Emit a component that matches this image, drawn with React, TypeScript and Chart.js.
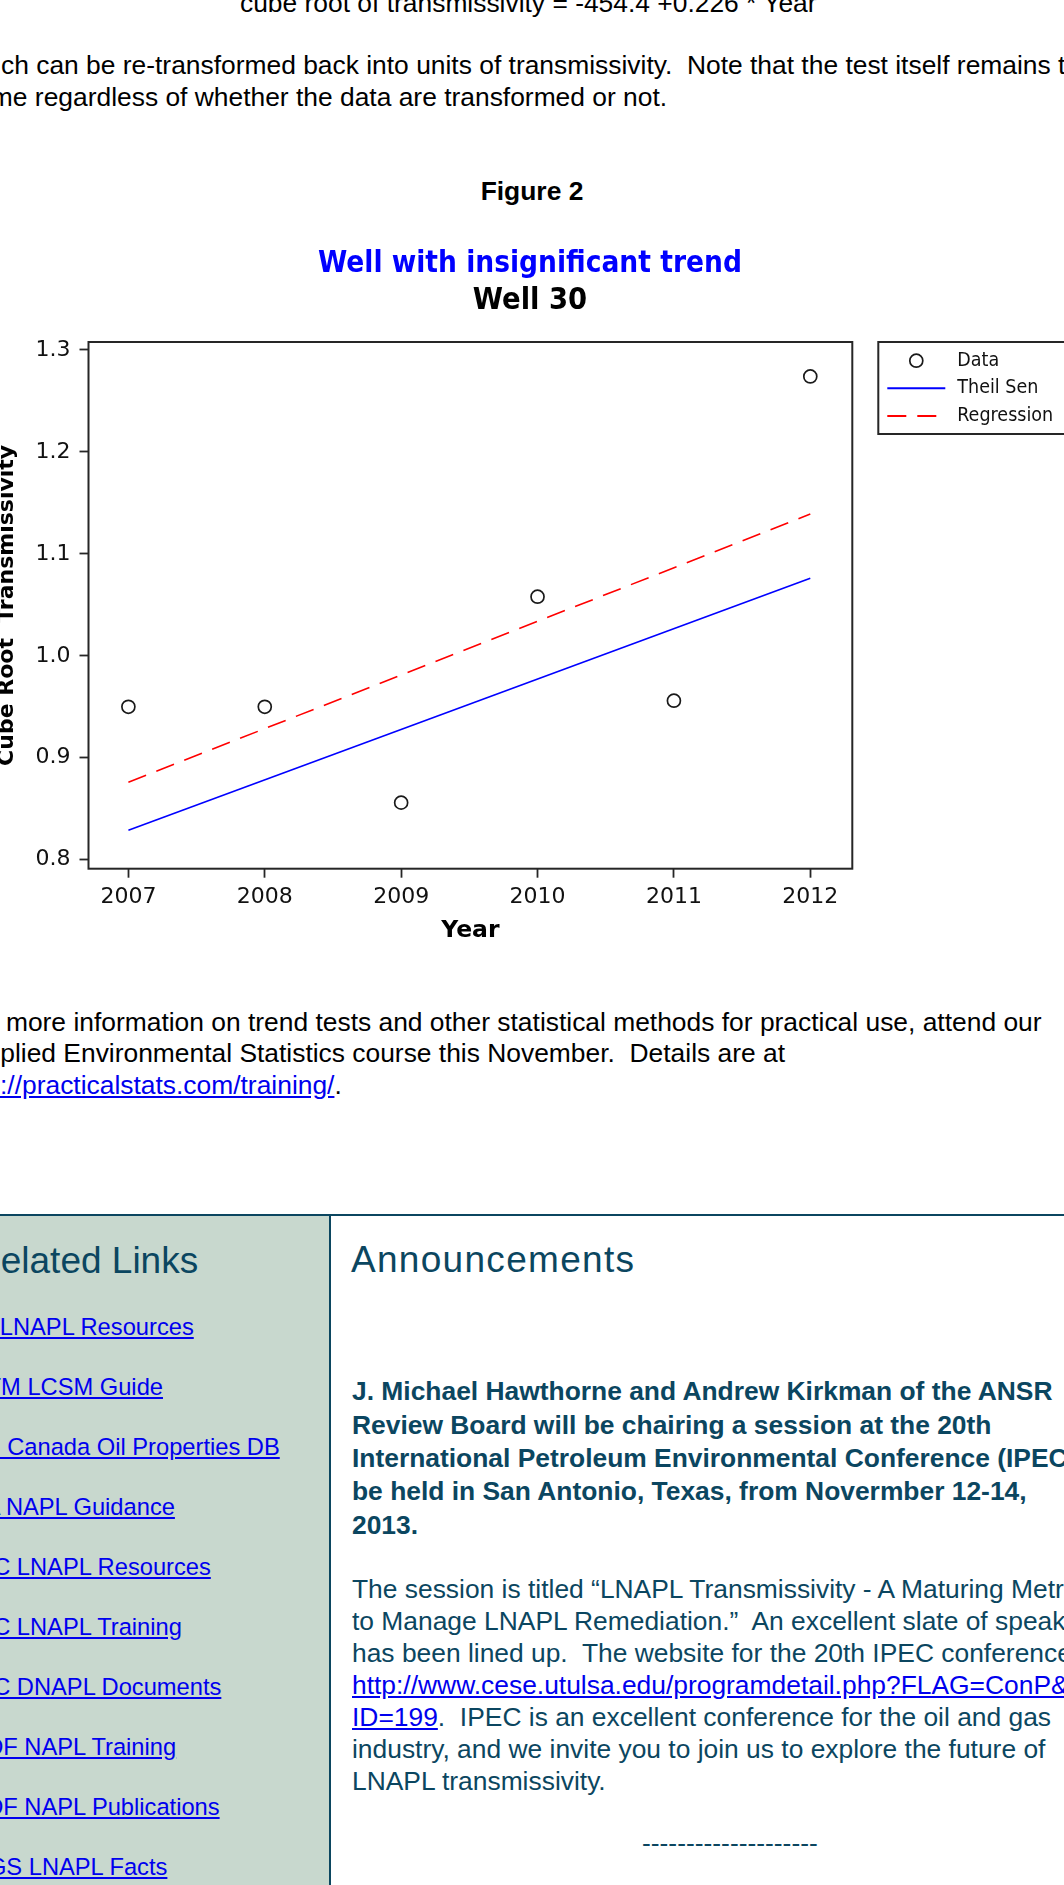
import React, { useEffect, useRef } from "react";
import { Chart, registerables } from "chart.js";

Chart.register(...registerables);

// ---- chart data ----
const years = [2007, 2008, 2009, 2010, 2011, 2012];
const cubeRootValues = [0.95, 0.95, 0.856, 1.058, 0.956, 1.274];
const theilSenYears = [2007, 2012];
const theilSenValues = [0.829, 1.076];
const regressionYears = [2007, 2012];
const regressionValues = [0.876, 1.139];
const xTickValues = [2007, 2008, 2009, 2010, 2011, 2012];
const yTickValues = [0.8, 0.9, 1.0, 1.1, 1.2, 1.3];
const seriesLabels = ["Data", "Theil Sen", "Regression"];
const xRange = [2006.7075, 2012.308];
const yRange = [0.7912, 1.3078];

// ---- page text ----
const relatedLinks = [
  "API LNAPL Resources",
  "ASTM LCSM Guide",
  "Env. Canada Oil Properties DB",
  "EPA NAPL Guidance",
  "ITRC LNAPL Resources",
  "ITRC LNAPL Training",
  "ITRC DNAPL Documents",
  "RTDF NAPL Training",
  "RTDF NAPL Publications",
  "USGS LNAPL Facts",
];
const announceBold = [
  "J. Michael Hawthorne and Andrew Kirkman of the ANSR",
  "Review Board will be chairing a session at the 20th",
  "International Petroleum Environmental Conference (IPEC) to",
  "be held in San Antonio, Texas, from Novermber 12-14,",
  "2013.",
];

const BODY = '"Liberation Sans", Arial, Helvetica, sans-serif';
const TEAL = "#0b4660";
const LINK = "#0000ee";
const CHART_FONT = "'DejaVu Sans', Verdana, sans-serif";
const CHART_FONT_C = "'DejaVu Sans Condensed', 'DejaVu Sans', sans-serif";

const frameLegendPlugin = {
  id: "frameLegend",
  afterDraw(chart: any) {
    const { ctx, chartArea: a } = chart;
    ctx.save();
    ctx.strokeStyle = "#262626";
    ctx.lineWidth = 2;
    ctx.setLineDash([]);
    ctx.strokeRect(a.left, a.top, a.right - a.left, a.bottom - a.top);
    // legend box
    const lx = a.right + 26;
    const ly = a.top;
    ctx.strokeRect(lx, ly, 240, 92);
    const rowY = [18.7, 46.3, 74];
    ctx.font = `19.5px ${CHART_FONT_C}`;
    ctx.textBaseline = "middle";
    ctx.textAlign = "left";
    chart.data.datasets.forEach((ds: any, i: number) => {
      const y = ly + rowY[i];
      if (!ds.showLine) {
        ctx.beginPath();
        ctx.lineWidth = ds.pointBorderWidth;
        ctx.strokeStyle = ds.pointBorderColor;
        ctx.setLineDash([]);
        ctx.arc(lx + 38, y, ds.pointRadius, 0, Math.PI * 2);
        ctx.stroke();
      } else {
        ctx.beginPath();
        ctx.lineWidth = 2;
        ctx.strokeStyle = ds.borderColor;
        ctx.setLineDash(ds.borderDash || []);
        ctx.moveTo(lx + 9, y);
        ctx.lineTo(lx + 67, y);
        ctx.stroke();
      }
      ctx.setLineDash([]);
      ctx.fillStyle = "#111";
      ctx.fillText(ds.label, lx + 79, y);
    });
    ctx.restore();
  },
};

function WellChart() {
  const ref = useRef<HTMLCanvasElement>(null);
  useEffect(() => {
    const canvas = ref.current;
    if (!canvas) return;
    const chart = new Chart(canvas, {
      type: "scatter",
      data: {
        datasets: [
          {
            label: seriesLabels[0],
            data: years.map((x, i) => ({ x, y: cubeRootValues[i] })),
            showLine: false,
            pointRadius: 6.5,
            pointBorderWidth: 1.7,
            pointBorderColor: "#1a1a1a",
            pointBackgroundColor: "rgba(0,0,0,0)",
          } as any,
          {
            label: seriesLabels[1],
            data: theilSenYears.map((x, i) => ({ x, y: theilSenValues[i] })),
            showLine: true,
            borderColor: "#0000ff",
            borderWidth: 1.6,
            pointRadius: 0,
          },
          {
            label: seriesLabels[2],
            data: regressionYears.map((x, i) => ({ x, y: regressionValues[i] })),
            showLine: true,
            borderColor: "#ff0000",
            borderWidth: 1.6,
            borderDash: [19, 11],
            pointRadius: 0,
          },
        ],
      },
      options: {
        animation: false,
        responsive: false,
        devicePixelRatio: 1,
        layout: { padding: 0 },
        plugins: {
          legend: { display: false },
          tooltip: { enabled: false },
          title: {
            display: true,
            text: "Well with insignificant trend",
            color: "#0000ff",
            font: { family: CHART_FONT_C, size: 29.5, weight: "bold" },
            padding: { top: 26.5, bottom: 0 },
          },
          subtitle: {
            display: true,
            text: "Well 30",
            color: "#000",
            font: { family: CHART_FONT_C, size: 30.5, weight: "bold" },
            padding: { top: 1.1, bottom: 22.4 },
          },
        },
        scales: {
          x: {
            type: "linear",
            position: "bottom",
            min: xRange[0],
            max: xRange[1],
            afterFit: (s: any) => {
              s.height = 91.3;
            },
            afterBuildTicks: (s: any) => {
              s.ticks = xTickValues.map((value) => ({ value }));
            },
            ticks: {
              color: "#111",
              font: { family: CHART_FONT, size: 22 },
              padding: 5.9,
              maxRotation: 0,
              autoSkip: false,
              callback: (v: any) => String(v),
            },
            grid: {
              display: true,
              drawOnChartArea: false,
              drawTicks: true,
              tickLength: 9,
              tickWidth: 1.8,
              tickColor: "#262626",
              color: "rgba(0,0,0,0)",
            },
            border: { display: false },
            title: {
              display: true,
              text: "Year",
              color: "#000",
              font: { family: CHART_FONT, size: 23.5, weight: "bold" },
              padding: { top: 0, bottom: 15.2 },
            },
          },
          y: {
            type: "linear",
            position: "left",
            min: yRange[0],
            max: yRange[1],
            afterFit: (s: any) => {
              s.width = 108.5;
            },
            afterBuildTicks: (s: any) => {
              s.ticks = yTickValues.map((value) => ({ value }));
            },
            ticks: {
              color: "#111",
              font: { family: CHART_FONT, size: 22 },
              padding: 8.9,
              autoSkip: false,
              callback: (v: any) => Number(v).toFixed(1),
            },
            grid: {
              display: true,
              drawOnChartArea: false,
              drawTicks: true,
              tickLength: 9,
              tickWidth: 1.8,
              tickColor: "#262626",
              color: "rgba(0,0,0,0)",
            },
            border: { display: false },
            title: {
              display: true,
              text: "Cube Root  Transmissivity",
              color: "#000",
              font: { family: CHART_FONT, size: 22, weight: "bold" },
              padding: { top: 14, bottom: 0 },
            },
          },
          yRight: {
            type: "linear",
            position: "right",
            display: true,
            min: 0,
            max: 1,
            afterFit: (s: any) => {
              s.width = 227.7;
            },
            ticks: { display: false },
            grid: { display: false, drawTicks: false },
            border: { display: false },
          },
        },
      } as any,
      plugins: [frameLegendPlugin],
    });
    return () => chart.destroy();
  }, []);
  return (
    <canvas
      ref={ref}
      width={1100}
      height={740}
      style={{ position: "absolute", left: -20, top: 220, width: 1100, height: 740 }}
    />
  );
}

function T(props: {
  x: number;
  b: number;
  size?: number;
  weight?: number;
  color?: string;
  ls?: number;
  center?: boolean;
  children: any;
}) {
  const size = props.size ?? 26.4;
  return (
    <div
      style={{
        position: "absolute",
        left: props.center ? 0 : props.x,
        width: props.center ? 1064 : undefined,
        textAlign: props.center ? "center" : "left",
        top: props.b - 0.8465 * size,
        fontSize: size,
        lineHeight: `${size}px`,
        height: size,
        fontWeight: props.weight ?? 400,
        color: props.color ?? "#000",
        letterSpacing: props.ls ?? 0,
        whiteSpace: "pre",
        fontFamily: BODY,
      }}
    >
      {props.children}
    </div>
  );
}

const linkStyle: React.CSSProperties = { color: LINK, textDecoration: "underline" };

export default function App() {
  return (
    <div
      style={{
        position: "absolute",
        left: 0,
        top: 0,
        width: 1064,
        height: 1885,
        overflow: "hidden",
        background: "#fff",
      }}
    >
      <T x={240} b={12.7}>cube root of transmissivity = -454.4 +0.226 * Year</T>
      <T x={-38.6} b={74}>
        {"which can be re-transformed back into units of transmissivity.  Note that the test itself remains the"}
      </T>
      <T x={-37} b={106.5}>same regardless of whether the data are transformed or not.</T>
      <T x={0} b={200} weight={700} center>
        Figure 2
      </T>

      <WellChart />

      <T x={-41} b={1031}>
        For more information on trend tests and other statistical methods for practical use, attend our
      </T>
      <T x={-32} b={1062.5}>{"Applied Environmental Statistics course this November.  Details are at"}</T>
      <T x={-44} b={1094}>
        <span style={linkStyle}>http://practicalstats.com/training/</span>.
      </T>

      {/* table section */}
      <div style={{ position: "absolute", left: 0, top: 1216, width: 329, height: 669, background: "#c8d8ce" }} />
      <div style={{ position: "absolute", left: 0, top: 1214, width: 1064, height: 2, background: TEAL }} />
      <div style={{ position: "absolute", left: 329, top: 1214, width: 2, height: 671, background: TEAL }} />

      <T x={-26} b={1273.3} size={37} color={TEAL}>
        Related Links
      </T>
      {relatedLinks.map((name, i) => (
        <T key={name} x={-45} b={1336.5 + 60 * i} size={23.7}>
          <span style={linkStyle}>{name}</span>
        </T>
      ))}

      <T x={351} b={1272.7} size={37} color={TEAL} ls={1.3}>
        Announcements
      </T>
      {announceBold.map((line, i) => (
        <T key={line} x={352} b={1400.5 + 33.4 * i} weight={700} color={TEAL}>
          {line}
        </T>
      ))}
      <T x={352} b={1598.5} color={TEAL}>
        The session is titled “LNAPL Transmissivity - A Maturing Metric
      </T>
      <T x={352} b={1598.5 + 31.9} color={TEAL}>
        {"to Manage LNAPL Remediation.”  An excellent slate of speakers"}
      </T>
      <T x={352} b={1598.5 + 31.9 * 2} color={TEAL}>
        {"has been lined up.  The website for the 20th IPEC conference is"}
      </T>
      <T x={352} b={1598.5 + 31.9 * 3} color={TEAL}>
        <span style={linkStyle}>http://www.cese.utulsa.edu/programdetail.php?FLAG=ConP&amp;</span>
      </T>
      <T x={352} b={1598.5 + 31.9 * 4} color={TEAL}>
        <span style={linkStyle}>ID=199</span>
        {".  IPEC is an excellent conference for the oil and gas"}
      </T>
      <T x={352} b={1598.5 + 31.9 * 5} color={TEAL}>
        industry, and we invite you to join us to explore the future of
      </T>
      <T x={352} b={1598.5 + 31.9 * 6} color={TEAL}>
        LNAPL transmissivity.
      </T>
      <T x={642} b={1852} color={TEAL}>
        --------------------
      </T>
    </div>
  );
}
